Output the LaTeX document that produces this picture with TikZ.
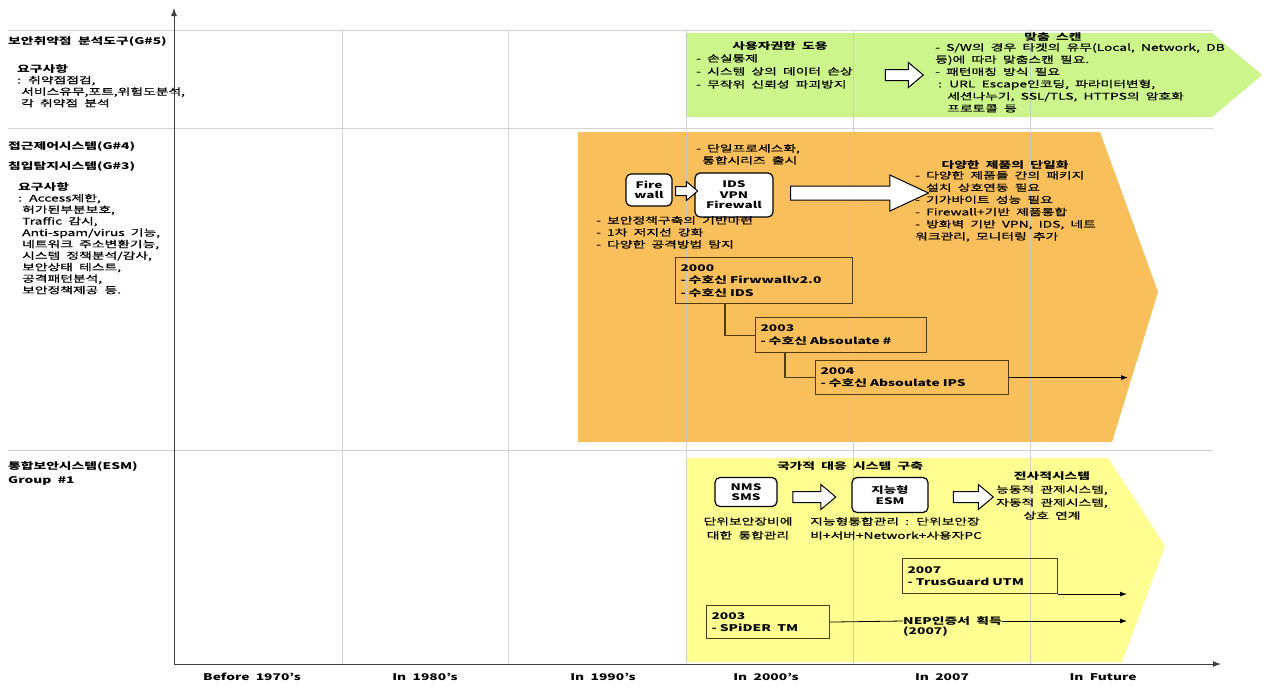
\documentclass[tikz,border=0pt]{standalone}
\usepackage{fontspec}
\setmainfont[FakeStretch=1.5, WordSpace=2.0, UprightFeatures={FakeBold=0.6}]{Noto Sans CJK KR}
\usetikzlibrary{shapes.arrows,arrows.meta}
\definecolor{scanGreen}{RGB}{204,246,140}
\definecolor{fwOrange}{RGB}{249,191,91}
\definecolor{esmYellow}{RGB}{255,255,145}
\definecolor{gridGray}{RGB}{200,200,200}
\definecolor{boxBrown}{RGB}{80,60,20}
\begin{document}
\begin{tikzpicture}[x=1pt,y=-1pt,
  every node/.style={inner sep=0pt, font=\fontsize{9.2}{11.5}\selectfont},
  txt/.style={anchor=north west, align=left},
  head/.style={font=\fontsize{9.2}{11.5}\selectfont\bfseries},
  rbox/.style={draw, line width=1.2pt, rounded corners=5pt, fill=white, align=center,
    inner sep=2pt, font=\fontsize{9}{10.5}\selectfont\bfseries},
  yearbox/.style={draw=boxBrown, line width=1.1pt, anchor=north west, align=left,
    inner sep=5pt, font=\fontsize{9.2}{12.5}\selectfont\bfseries},
  hollow/.style={single arrow, draw, fill=white, line width=1pt, inner xsep=0pt,
    inner ysep=5pt, single arrow head extend=7pt, single arrow tip angle=80},
  tl/.style={-{Latex[length=7pt,width=5pt]}, line width=0.8pt},
  grid/.style={gridGray, line width=0.8pt, opacity=0.8},
  axis/.style={-{Latex[length=8pt,width=6pt]}, line width=1pt, black!75}
]
\useasboundingbox (0,0) rectangle (1265,686);

% coloured bands
\fill[scanGreen] (686,33) -- (1212,33) -- (1262,75) -- (1212,117) -- (686,117) -- cycle;
\fill[fwOrange] (578,132) -- (1100,132) -- (1158,292) -- (1112,442) -- (578,442) -- cycle;
\fill[esmYellow] (686,458) -- (1108,458) -- (1165,546) -- (1122,662) -- (686,662) -- cycle;

% grid
\foreach \gx in {342,508,686,853,1030}
  \draw[grid] (\gx,30) -- (\gx,664);
\foreach \gy in {30,128,450}
  \draw[grid] (8,\gy) -- (1213,\gy);

% axes
\coordinate (origin) at (174,664);
\coordinate (yTop) at (174,8);
\coordinate (xEnd) at (1221,664);
\draw[axis] (origin) -- (yTop);
\draw[axis] (origin) -- (xEnd);
\node[head] (tBefore) at (252,677) {Before 1970's};
\node[head] (t1980) at (425,677) {In 1980's};
\node[head] (t1990) at (603,677) {In 1990's};
\node[head] (t2000) at (766,677) {In 2000's};
\node[head] (t2007) at (942,677) {In 2007};
\node[head] (tFuture) at (1103,677) {In Future};

% left column
\node[head, anchor=west] (gScan) at (8,42) {보안취약점 분석도구(G\#5)};
\node[txt] (reqScan) at (17,64) {\textbf{요구사항}\\: 취약점점검,\\\hspace*{4pt}서비스유무,포트,위험도분석,\\\hspace*{4pt}각 취약점 분석};
\node[head, anchor=west] (gAcc) at (8,147) {접근제어시스템(G\#4)};
\node[head, anchor=west] (gIds) at (8,167) {침입탐지시스템(G\#3)};
\node[txt] (reqFw) at (18,182) {\textbf{요구사항}\\: Access제한,\\\hspace*{4pt}허가된부분보호,\\\hspace*{4pt}Traffic 감시,\\\hspace*{4pt}Anti-spam/virus 기능,\\\hspace*{4pt}네트워크 주소변환기능,\\\hspace*{4pt}시스템 정책분석/감사,\\\hspace*{4pt}보안상태 테스트,\\\hspace*{4pt}공격패턴분석,\\\hspace*{4pt}보안정책제공 등.};
\node[txt, head] (gEsm) at (8,461) {통합보안시스템(ESM)\\[3pt]Group \#1};

% green band
\node[head] (hUser) at (780,46) {사용자권한 도용};
\node[txt, font=\fontsize{9.2}{13}\selectfont] (userList) at (696,54) {- 손실통제\\- 시스템 상의 데이터 손상\\- 무작위 신뢰성 파괴방지};
\node[hollow, minimum height=38pt] (arrScan) at (901,75) {};
\node[head] (hScan) at (1053,37) {맞춤 스캔};
\node[txt, font=\fontsize{9.2}{12.2}\selectfont] (scanList) at (935,43) {- S/W의 경우 타겟의 유무(Local, Network, DB\\등)에 따라 맞춤스캔 필요.\\- 패턴매칭 방식 필요\\\hspace*{3pt}: URL Escape인코딩, 파라미터변형,\\\hspace*{12pt}세션나누기, SSL/TLS, HTTPS의 암호화\\\hspace*{12pt}프로토콜 등};

% orange band
\node[txt, font=\fontsize{9.2}{12}\selectfont] (single) at (696,144) {- 단일프로세스화,\\\hspace*{6pt}통합시리즈 출시};
\node[rbox, minimum width=46pt, minimum height=32pt] (fw) at (649,190) {Fire\\wall};
\node[rbox, minimum width=78pt, minimum height=44pt] (ids) at (734,195) {IDS\\VPN\\Firewall};
\node[hollow, minimum height=22pt, inner ysep=4pt, single arrow head extend=5pt] (arrFw) at (684,191) {};
\node[hollow, minimum height=138pt, inner ysep=6.5pt, single arrow head extend=11pt, single arrow tip angle=50] (arrBig) at (852,193) {};
\node[txt, font=\fontsize{9.2}{12}\selectfont] (fwBase) at (596,216) {- 보안정책구축의 기반마련\\- 1차 저지선 강화\\- 다양한 공격방법 탐지};
\node[head] (hMulti) at (1005,165) {다양한 제품의 단일화};
\node[txt, font=\fontsize{9.2}{12.2}\selectfont] (multiList) at (915,171) {- 다양한 제품들 간의 패키지\\\hspace*{11pt}설치 상호연동 필요\\- 기가바이트 성능 필요\\- Firewall+기반 제품통합\\- 방화벽 기반 VPN, IDS, 네트\\워크관리, 모니터링 추가};

\node[yearbox, text width=167pt, minimum height=46pt] (b2000) at (675,257) {2000\\- 수호신 Firwwallv2.0\\- 수호신 IDS};
\node[yearbox, text width=161pt, minimum height=35pt] (b2003) at (755,317) {2003\\- 수호신 Absoulate \#};
\node[yearbox, text width=183pt, minimum height=34pt] (b2004) at (815,360) {2004\\- 수호신 Absoulate IPS};
\coordinate (ipsEnd) at (1128,377);
\draw[boxBrown, line width=1.1pt] (b2000.south west) ++(50,0) |- (b2003.west);
\draw[boxBrown, line width=1.1pt] (b2003.south west) ++(30,0) |- (b2004.west);
\draw[tl] (b2004.east) -- (b2004.east -| ipsEnd);

% yellow band
\node[head] (hNation) at (850,466) {국가적 대응 시스템 구축};
\node[rbox, minimum width=62pt, minimum height=29pt] (nms) at (746,492) {NMS\\SMS};
\node[hollow, minimum height=43pt] (arrNms) at (811,497) {};
\node[rbox, minimum width=76pt, minimum height=35pt] (esm) at (890,495) {지능형\\ESM};
\node[hollow, minimum height=40pt] (arrEsm) at (970,497) {};
\node[anchor=north, align=center, font=\fontsize{9.2}{13}\selectfont] (ctrl) at (1052,472) {\textbf{전사적시스템}\\능동적 관제시스템,\\자동적 관제시스템,\\상호 연계};
\node[anchor=north, align=center, font=\fontsize{9.2}{14}\selectfont] (unitMgmt) at (748,517) {단위보안장비에\\대한 통합관리};
\node[txt, font=\fontsize{9.2}{14}\selectfont] (smartMgmt) at (810,517) {지능형통합관리 : 단위보안장\\비+서버+Network+사용자PC};

\node[yearbox, text width=145pt, minimum height=35pt] (tg) at (902,558) {2007\\- TrusGuard UTM};
\node[yearbox, text width=113pt, minimum height=33pt] (spider) at (706,605) {2003\\- SPiDER\ \ TM};
\node[head, anchor=west] (nep) at (903,621) {NEP인증서 획득};
\node[head, anchor=north west] (nepYear) at (903,627) {(2007)};
\coordinate (tgEnd) at (1127,593);
\coordinate (nepEnd) at (1127,621);
\draw[tl] (tg.south east) -- (tg.south east -| tgEnd);
\draw[line width=0.8pt] (spider.east) -- (nep.west);
\draw[tl] (nep.east) -- (nep.east -| nepEnd);
\end{tikzpicture}
\end{document}
